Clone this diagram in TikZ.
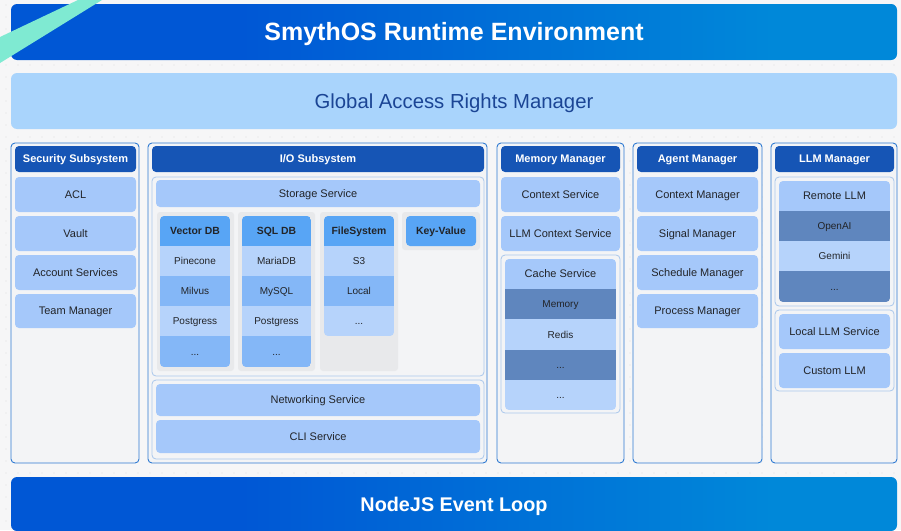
\documentclass[tikz,border=0pt]{standalone}
\usepackage{fontspec}
\setmainfont{Liberation Sans}
\definecolor{hdr}{HTML}{1655B5}
\definecolor{colb}{HTML}{2F7AD2}
\definecolor{colf}{HTML}{F3F4F6}
\definecolor{itemc}{HTML}{A5C8FA}
\definecolor{contb}{HTML}{AAC7EC}
\definecolor{dbh}{HTML}{58A5F5}
\definecolor{rowl}{HTML}{B6D3FB}
\definecolor{rowm}{HTML}{84B7F7}
\definecolor{rowd}{HTML}{5F86BE}
\definecolor{subbgc}{HTML}{E8E9EB}
\definecolor{garm}{HTML}{A9D4FC}
\definecolor{gartext}{HTML}{1B4595}
\definecolor{bgc}{HTML}{F6F6F7}
\definecolor{dotc}{HTML}{DEDEE0}
\definecolor{mint}{HTML}{7FEAD2}
\definecolor{deep}{HTML}{0057D5}
\definecolor{sky}{HTML}{0088D9}
\definecolor{txt}{HTML}{222428}
\pgfdeclarehorizontalshading{barshade}{100bp}{color(0bp)=(deep); color(38bp)=(deep); color(68bp)=(sky); color(100bp)=(sky)}
\newcommand\bx[7]{\node[#1, minimum width={(#5-#3)*1pt}, minimum height={(#6-#4)*1pt}] (#2) at ({(#3+#5)/2},{(#4+#6)/2}) {#7};}
\tikzset{
  capc/.style={text height=#1, text depth=0pt},
  base/.style={inner sep=0pt, outer sep=0pt, rounded corners=4pt, align=center},
  colbox/.style={base, draw=colb, line width=0.9pt, fill=colf},
  hdrbox/.style={base, fill=hdr, text=white, font=\bfseries\fontsize{11}{13}\selectfont, capc=7.9pt},
  itm/.style={base, fill=itemc, text=txt, font=\fontsize{11}{13}\selectfont, capc=7.9pt},
  cont/.style={base, draw=contb, line width=0.8pt, fill=colf},
  subbox/.style={base, fill=subbgc, rounded corners=3pt},
  rowbase/.style={inner sep=0pt, outer sep=0pt, text=txt, font=\fontsize{10}{12}\selectfont, capc=7.2pt},
  rl/.style={rowbase, fill=rowl},
  rm/.style={rowbase, fill=rowm},
  rd/.style={rowbase, fill=rowd},
  dbhead/.style={rowbase, fill=dbh, font=\fontsize{10.4}{12}\selectfont\bfseries, capc=7.5pt},
  chead/.style={rowbase, fill=itemc, font=\fontsize{11}{13}\selectfont, capc=7.9pt},
  bigbar/.style={base, rounded corners=6pt, shading=barshade, text=white},
}
\begin{document}
\begin{tikzpicture}[x=1pt,y=-1pt]
\useasboundingbox (0,0) rectangle (901,530);
\fill[bgc] (0,0) rectangle (901,530);
\foreach \i in {0,...,74}{\foreach \j in {0,...,44}{\fill[dotc] (6+\i*12,5+\j*12) circle (0.55);}}
% top bars
\bx{bigbar, font=\bfseries\fontsize{25}{28}\selectfont, capc=17.9pt}{top}{11}{4}{897}{60}{SmythOS Runtime Environment}
\bx{base, rounded corners=6pt, fill=garm, text=gartext, font=\fontsize{20.3}{23}\selectfont, capc=14.5pt}{garm}{11}{73}{897}{129}{Global Access Rights Manager}
\bx{bigbar, font=\bfseries\fontsize{19.8}{23}\selectfont, capc=14.2pt}{node}{11}{477}{897}{531}{NodeJS Event Loop}
% Security
\bx{colbox}{sec}{11}{143}{139}{463}{}
\bx{hdrbox}{sech}{15}{146}{136}{172}{Security Subsystem}
\bx{itm}{acl}{15}{177}{136}{212}{ACL}
\bx{itm}{vault}{15}{216}{136}{251}{Vault}
\bx{itm}{acc}{15}{255}{136}{290}{Account Services}
\bx{itm}{team}{15}{294}{136}{328}{Team Manager}
% I/O
\bx{colbox}{io}{148}{143}{487}{463}{}
\bx{hdrbox}{ioh}{152}{146}{484}{172}{I/O Subsystem}
\bx{cont}{stc}{152}{177}{484}{376}{}
\bx{itm}{sts}{156}{180}{480}{207}{Storage Service}
\bx{subbox}{vbg}{157}{212}{234}{371}{}
\bx{subbox}{sbg}{238}{212}{315}{371}{}
\bx{subbox}{fbg}{320}{212}{398}{371}{}
\bx{subbox}{kbg}{402}{212}{480}{250}{}
\begin{scope}
\clip[rounded corners=4pt] (160,216) rectangle (230,367);
\bx{dbhead}{vdb}{160}{216}{230}{246}{Vector DB}
\bx{rl}{pine}{160}{246}{230}{276}{Pinecone}
\bx{rm}{milv}{160}{276}{230}{306}{Milvus}
\bx{rl}{vpg}{160}{306}{230}{336}{Postgress}
\bx{rm}{vdots}{160}{336}{230}{367}{...}
\end{scope}
\begin{scope}
\clip[rounded corners=4pt] (242,216) rectangle (311,367);
\bx{dbhead}{sdb}{242}{216}{311}{246}{SQL DB}
\bx{rl}{maria}{242}{246}{311}{276}{MariaDB}
\bx{rm}{mysql}{242}{276}{311}{306}{MySQL}
\bx{rl}{spg}{242}{306}{311}{336}{Postgress}
\bx{rm}{sdots}{242}{336}{311}{367}{...}
\end{scope}
\begin{scope}
\clip[rounded corners=4pt] (324,216) rectangle (394,336);
\bx{dbhead}{fs}{324}{216}{394}{246}{FileSystem}
\bx{rl}{s3}{324}{246}{394}{276}{S3}
\bx{rm}{local}{324}{276}{394}{306}{Local}
\bx{rl}{fdots}{324}{306}{394}{336}{...}
\end{scope}
\bx{dbhead, base}{kv}{406}{216}{476}{246}{Key-Value}
\bx{cont}{nc}{152}{380}{484}{459}{}
\bx{itm}{net}{156}{384}{480}{416}{Networking Service}
\bx{itm}{cli}{156}{420}{480}{453}{CLI Service}
% Memory
\bx{colbox}{mem}{497}{143}{624}{463}{}
\bx{hdrbox}{memh}{501}{146}{620}{172}{Memory Manager}
\bx{itm}{ctx}{501}{177}{620}{212}{Context Service}
\bx{itm}{llmctx}{501}{216}{620}{251}{LLM Context Service}
\bx{cont}{cc}{501}{255}{620}{413}{}
\begin{scope}
\clip[rounded corners=4pt] (505,259) rectangle (616,410);
\bx{chead}{cache}{505}{259}{616}{289}{Cache Service}
\bx{rd}{memory}{505}{289}{616}{319}{Memory}
\bx{rl}{redis}{505}{319}{616}{350}{Redis}
\bx{rd}{cd1}{505}{350}{616}{380}{...}
\bx{rl}{cd2}{505}{380}{616}{410}{...}
\end{scope}
% Agent
\bx{colbox}{ag}{633}{143}{762}{463}{}
\bx{hdrbox}{agh}{637}{146}{758}{172}{Agent Manager}
\bx{itm}{ctxm}{637}{177}{758}{212}{Context Manager}
\bx{itm}{sig}{637}{216}{758}{251}{Signal Manager}
\bx{itm}{sch}{637}{255}{758}{290}{Schedule Manager}
\bx{itm}{proc}{637}{294}{758}{328}{Process Manager}
% LLM
\bx{colbox}{llm}{771}{143}{897}{463}{}
\bx{hdrbox}{llmh}{775}{146}{894}{172}{LLM Manager}
\bx{cont}{rc}{775}{177}{894}{306}{}
\begin{scope}
\clip[rounded corners=4pt] (779,181) rectangle (890,302);
\bx{chead}{remote}{779}{181}{890}{211}{Remote LLM}
\bx{rd}{openai}{779}{211}{890}{241}{OpenAI}
\bx{rl}{gemini}{779}{241}{890}{271}{Gemini}
\bx{rd}{rdots}{779}{271}{890}{302}{...}
\end{scope}
\bx{cont}{lc}{775}{310}{894}{391}{}
\bx{itm}{locl}{779}{314}{890}{349}{Local LLM Service}
\bx{itm}{cust}{779}{353}{890}{388}{Custom LLM}
% mint stripe
\fill[mint] (78,0) -- (102,0) -- (0,63) -- (0,37) -- cycle;
\end{tikzpicture}
\end{document}
